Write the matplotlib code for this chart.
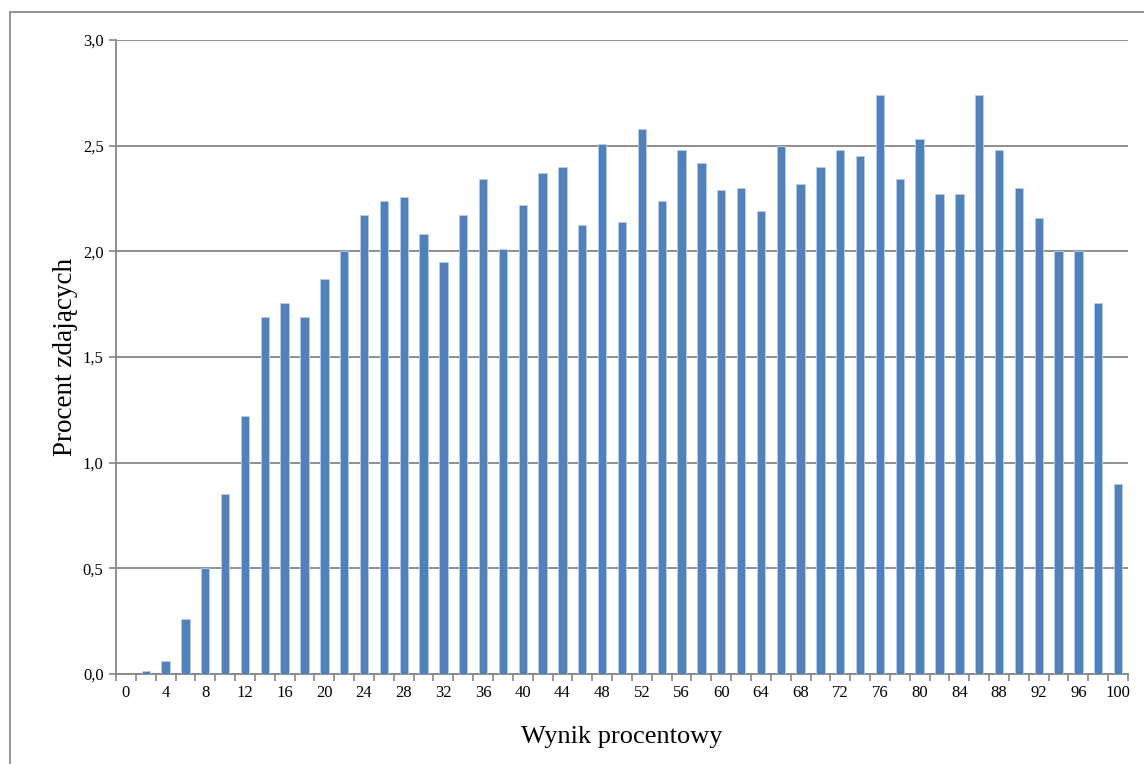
import numpy as np
import matplotlib
matplotlib.use("Agg")
import matplotlib.pyplot as plt
from matplotlib.patches import Rectangle

plt.rcParams['font.family'] = ['Liberation Serif', 'DejaVu Serif']

# wynik procentowy (co 2 punkty) i procent zdajacych
wyniki = list(range(0, 101, 2))
procent = [0.0, 0.015, 0.06, 0.26, 0.50, 0.85, 1.22, 1.69, 1.755, 1.69,
           1.87, 2.00, 2.17, 2.24, 2.255, 2.08, 1.95, 2.17, 2.34, 2.01,
           2.22, 2.37, 2.40, 2.125, 2.51, 2.14, 2.58, 2.24, 2.48, 2.42,
           2.29, 2.30, 2.19, 2.50, 2.32, 2.40, 2.48, 2.45, 2.74, 2.34,
           2.53, 2.27, 2.27, 2.74, 2.48, 2.30, 2.16, 2.00, 2.00, 1.755,
           0.90]
y_ticks = [0.0, 0.5, 1.0, 1.5, 2.0, 2.5, 3.0]

W, H = 1144, 764
fig = plt.figure(figsize=(W / 100, H / 100), dpi=100)
ax = fig.add_axes([116 / W, 1 - 674 / H, (1128 - 116) / W, (674 - 40) / H])

# ramka wokol calego wykresu (ucieta z prawej i z dolu)
fig.patches.append(Rectangle((10 / W, -0.1), 1.2, 1 - 12 / H + 0.1,
                             transform=fig.transFigure, fill=False,
                             edgecolor='#8c8c8c', linewidth=1.3))

gray = '#868686'
x = np.arange(len(wyniki))
ax.bar(x, procent, width=0.42, color='#4F81BD', edgecolor='#B9CDE5',
       linewidth=0.6, zorder=3)

ax.set_xlim(-0.5, len(wyniki) - 0.5)
ax.set_ylim(0, 3.0)
ax.set_yticks(y_ticks)
ax.set_yticklabels([f"{v:.1f}".replace('.', ',') for v in y_ticks], fontsize=12)
ax.yaxis.grid(True, color=gray, linewidth=1.3, zorder=0)

# znaczniki na granicach kategorii, etykiety co druga kategoria
ax.set_xticks(np.arange(len(wyniki) + 1) - 0.5)
ax.set_xticklabels([])
ax.set_xticks(x[::2], minor=True)
ax.set_xticklabels([str(w) for w in wyniki[::2]], minor=True, fontsize=12)
ax.tick_params(axis='x', which='major', length=5, width=1.2, color=gray)
ax.tick_params(axis='x', which='minor', length=0, pad=8)
ax.tick_params(axis='y', length=5, width=1.2, color=gray, pad=4)

for s in ['top', 'right']:
    ax.spines[s].set_visible(False)
for s in ['left', 'bottom']:
    ax.spines[s].set_color(gray)
    ax.spines[s].set_linewidth(1.3)

ax.set_xlabel("Wynik procentowy", fontsize=19, labelpad=18)
ax.set_ylabel("Procent zdających", fontsize=19.5, labelpad=3)

fig.savefig("out.png", dpi=100)
